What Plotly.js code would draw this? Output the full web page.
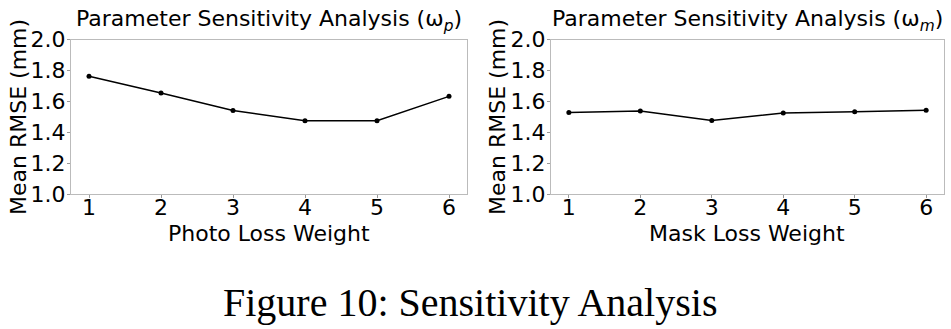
<!DOCTYPE html>
<html>
<head>
<meta charset="utf-8">
<script src="https://cdn.plot.ly/plotly-3.0.1.min.js"></script>
<style>html,body{margin:0;padding:0;background:#fff;}#chart{width:951px;height:329px;}</style>
</head>
<body>
<div id="chart"></div>
<script>
const weights = [1, 2, 3, 4, 5, 6];
const photoRMSE = [1.762, 1.654, 1.541, 1.474, 1.474, 1.632];
const maskRMSE = [1.528, 1.537, 1.476, 1.524, 1.533, 1.542];
const yTicks = [1.0, 1.2, 1.4, 1.6, 1.8, 2.0];
const yTickText = ['1.0', '1.2', '1.4', '1.6', '1.8', '2.0'];
const titleLeft = 'Parameter Sensitivity Analysis (ω<sub><i>p</i></sub>)';
const titleRight = 'Parameter Sensitivity Analysis (ω<sub><i>m</i></sub>)';
const xTitleLeft = 'Photo Loss Weight';
const xTitleRight = 'Mask Loss Weight';
const yTitle = 'Mean RMSE (mm)';
const caption = 'Figure 10: Sensitivity Analysis';

const W = 951, H = 329;
const font = 'DejaVu Sans, sans-serif';
const lineStyle = {color: '#000', width: 1.5};
const markerStyle = {color: '#000', size: 5};

const traces = [
  {x: weights, y: photoRMSE, xaxis: 'x', yaxis: 'y', mode: 'lines+markers', line: lineStyle, marker: markerStyle, showlegend: false},
  {x: weights, y: maskRMSE, xaxis: 'x2', yaxis: 'y2', mode: 'lines+markers', line: lineStyle, marker: markerStyle, showlegend: false}
];

function xax(domain) {
  return {
    domain: domain, range: [0.75, 6.25], tickvals: weights, ticktext: weights.map(String),
    ticks: 'outside', ticklen: 3, tickcolor: '#999', tickwidth: 1, ticklabelstandoff: -9,
    showline: true, mirror: true, linecolor: '#bbb', linewidth: 1,
    showgrid: false, zeroline: false,
    tickfont: {family: font, size: 22, color: '#000'}
  };
}
function yax(domain, anchor) {
  return {
    domain: domain, anchor: anchor, range: [1.0, 2.0], tickvals: yTicks, ticktext: yTickText,
    ticks: 'outside', ticklen: 3, tickcolor: '#999', tickwidth: 1, ticklabelstandoff: -3,
    showline: true, mirror: true, linecolor: '#bbb', linewidth: 1,
    showgrid: false, zeroline: false,
    tickfont: {family: font, size: 22, color: '#000'}
  };
}

const yDom = [1 - 194 / H, 1 - 39.5 / H];
const txt = (text, x, y, size, extra) => Object.assign({text: text, xref: 'paper', yref: 'paper', x: x / W, y: 1 - y / H, xanchor: 'center', yanchor: 'middle', showarrow: false, font: {family: font, size: size, color: '#000'}}, extra || {});
const layout = {
  width: W, height: H,
  margin: {l: 0, r: 0, t: 0, b: 0},
  paper_bgcolor: '#fff', plot_bgcolor: '#fff',
  xaxis: Object.assign(xax([71 / W, 467 / W]), {anchor: 'y'}),
  yaxis: yax(yDom, 'x'),
  xaxis2: Object.assign(xax([551 / W, 944 / W]), {anchor: 'y2'}),
  yaxis2: yax(yDom, 'x2'),
  annotations: [
    txt(titleLeft, 269, 21, 22),
    txt(titleRight, 747, 21, 22),
    txt(xTitleLeft, 269, 233, 22),
    txt(xTitleRight, 747, 233, 22),
    txt(yTitle, 18, 117, 22, {textangle: -90}),
    txt(yTitle, 497, 117, 22, {textangle: -90}),
    txt(caption, 470, 302, 40, {font: {family: 'Liberation Serif, Times New Roman, serif', size: 40, color: '#000'}})
  ]
};

Plotly.newPlot('chart', traces, layout, {displayModeBar: false, staticPlot: true});
</script>
</body>
</html>
